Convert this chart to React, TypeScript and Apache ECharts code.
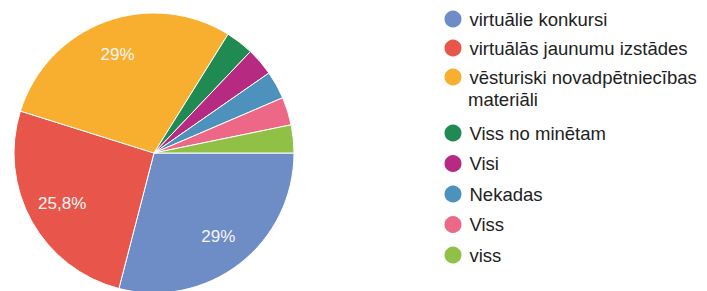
import React, { useEffect, useRef } from "react";
import * as echarts from "echarts";

const categories = [
  "virtuālie konkursi",
  "virtuālās jaunumu izstādes",
  "vēsturiski novadpētniecības\nmateriāli",
  "Viss no minētam",
  "Visi",
  "Nekadas",
  "Viss",
  "viss",
];
const counts = [9, 8, 9, 1, 1, 1, 1, 1];
const colors = [
  "#6E8DC6",
  "#E8564B",
  "#F8AE2F",
  "#1F8B52",
  "#B62A82",
  "#4D92BC",
  "#EC6886",
  "#90C046",
];

const FONT = "'Liberation Sans', Arial, sans-serif";
const TEXT_COLOR = "#222222";

export default function App() {
  const ref = useRef<HTMLDivElement>(null);
  useEffect(() => {
    if (!ref.current) return;
    const chart = echarts.init(ref.current, undefined, { renderer: "svg" });
    const total = counts.reduce((a, b) => a + b, 0);
    const data = categories.map((name, i) => ({
      name,
      value: counts[i],
      itemStyle: { color: colors[i] },
    }));
    const labelData = categories.map((name, i) => ({
      name,
      value: counts[i],
    }));
    const fmtPct = (v: number) => {
      const p = Math.round((v / total) * 1000) / 10;
      return String(p).replace(".", ",") + "%";
    };
    const legendCommon = {
      orient: "vertical" as const,
      left: 442.5,
      padding: 0,
      itemWidth: 23,
      itemHeight: 19,
      icon: "circle",
      selectedMode: false,
      textStyle: {
        fontSize: 18.5,
        lineHeight: 24,
        color: TEXT_COLOR,
        fontFamily: FONT,
      },
      formatter: (name: string) => name.split("\n")[0],
    };
    const wrapped = categories.find((c) => c.includes("\n")) || "";
    chart.setOption({
      animation: false,
      legend: [
        { ...legendCommon, top: 7, itemGap: 5, data: categories.slice(0, 3) },
        { ...legendCommon, top: 121, itemGap: 6.5, data: categories.slice(3) },
      ],
      graphic: [
        {
          type: "text",
          left: 468,
          top: 90,
          style: {
            text: wrapped.split("\n")[1] || "",
            fontSize: 18.5,
            fontFamily: FONT,
            fill: TEXT_COLOR,
          },
        },
      ],
      series: [
        {
          type: "pie",
          center: [154, 153],
          radius: [0, 140],
          startAngle: 0,
          clockwise: true,
          silent: true,
          avoidLabelOverlap: false,
          label: { show: false },
          labelLine: { show: false },
          itemStyle: { borderColor: "#ffffff", borderWidth: 1 },
          emphasis: { disabled: true },
          data,
        },
        {
          type: "pie",
          center: [154, 153],
          radius: [64, 140],
          startAngle: 0,
          clockwise: true,
          silent: true,
          legendHoverLink: false,
          avoidLabelOverlap: false,
          itemStyle: { color: "rgba(0,0,0,0)", borderWidth: 0 },
          emphasis: { disabled: true },
          labelLine: { show: false },
          label: {
            show: true,
            position: "inside",
            color: "#f6f6f6",
            fontSize: 17,
            fontFamily: FONT,
            formatter: (p: any) =>
              p.value / total >= 0.1 ? fmtPct(p.value) : "",
          },
          data: labelData,
        },
      ],
    });
    return () => chart.dispose();
  }, []);
  return (
    <div
      ref={ref}
      style={{ position: "fixed", left: 0, top: 0, width: 707, height: 291, background: "#fff" }}
    />
  );
}
